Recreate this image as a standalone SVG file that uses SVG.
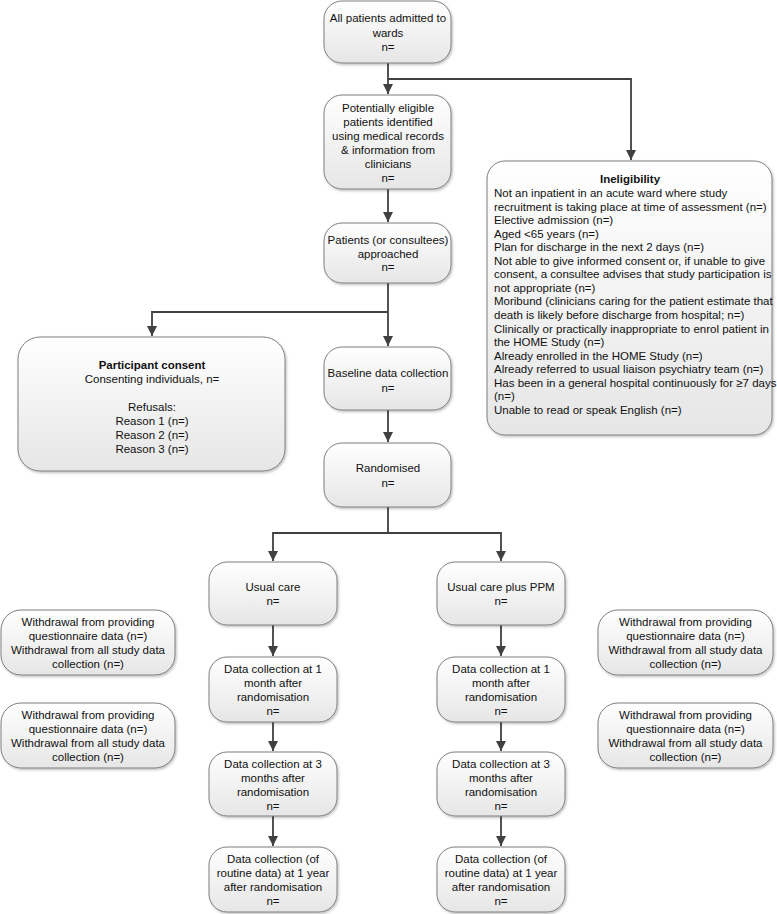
<svg xmlns="http://www.w3.org/2000/svg" width="777" height="914" viewBox="0 0 777 914">
<defs>
<linearGradient id="fillG" x1="0" y1="0" x2="0" y2="1">
<stop offset="0" stop-color="#ffffff"/>
<stop offset="1" stop-color="#e6e6e6"/>
</linearGradient>
<filter id="sh" x="-5%" y="-5%" width="115%" height="120%">
<feDropShadow dx="1.2" dy="1.5" stdDeviation="1" flood-color="#000" flood-opacity="0.25"/>
</filter>
<marker id="arr" markerUnits="userSpaceOnUse" markerWidth="12" markerHeight="12" viewBox="0 0 12 12" refX="11" refY="6" orient="auto">
<path d="M1,1 L11,6 L1,11 Z" fill="#404040"/>
</marker>
<style>
.box{fill:url(#fillG);stroke:#7f7f7f;stroke-width:1;filter:url(#sh)}
.t{font-family:"Liberation Sans",Arial,sans-serif;font-size:11.5px;fill:#111;text-anchor:middle}
.l{font-family:"Liberation Sans",Arial,sans-serif;font-size:11.5px;fill:#111}
.b{font-weight:bold}
.c{fill:none;stroke:#404040;stroke-width:1.8}
</style>
</defs>

<g id="connectors">
<path class="c" d="M388,63 V94" marker-end="url(#arr)"/>
<path class="c" d="M388,79 H631 V160" marker-end="url(#arr)"/>
<path class="c" d="M388,189 V222" marker-end="url(#arr)"/>
<path class="c" d="M388,283 V346" marker-end="url(#arr)"/>
<path class="c" d="M388,312 H152 V336" marker-end="url(#arr)"/>
<path class="c" d="M388,410 V442" marker-end="url(#arr)"/>
<path class="c" d="M388,507 V533 H273 V561" marker-end="url(#arr)"/>
<path class="c" d="M388,533 H501 V561" marker-end="url(#arr)"/>
<path class="c" d="M273,625 V656" marker-end="url(#arr)"/>
<path class="c" d="M273,722 V751" marker-end="url(#arr)"/>
<path class="c" d="M273,816 V846" marker-end="url(#arr)"/>
<path class="c" d="M501,625 V656" marker-end="url(#arr)"/>
<path class="c" d="M501,722 V751" marker-end="url(#arr)"/>
<path class="c" d="M501,816 V846" marker-end="url(#arr)"/>
</g>

<g id="all-patients">
<rect class="box" x="324" y="1" width="127" height="62" rx="18"/>
<text class="t" x="388" y="22">All patients admitted to</text>
<text class="t" x="388" y="37">wards</text>
<text class="t" x="388" y="51">n=</text>
</g>

<g id="potentially-eligible">
<rect class="box" x="324" y="95" width="127" height="94" rx="18"/>
<text class="t" x="388" y="112">Potentially eligible</text>
<text class="t" x="388" y="126">patients identified</text>
<text class="t" x="388" y="140">using medical records</text>
<text class="t" x="388" y="154">&amp; information from</text>
<text class="t" x="388" y="168">clinicians</text>
<text class="t" x="388" y="182">n=</text>
</g>

<g id="approached">
<rect class="box" x="324" y="223" width="127" height="60" rx="18"/>
<text class="t" x="388" y="244">Patients (or consultees)</text>
<text class="t" x="388" y="257.5">approached</text>
<text class="t" x="388" y="271">n=</text>
</g>

<g id="ineligibility">
<rect class="box" x="487" y="161" width="285" height="274" rx="18"/>
<text class="t b" x="630" y="183.4">Ineligibility</text>
<text class="l" x="494" y="197">
<tspan x="494" dy="0">Not an inpatient in an acute ward where study</tspan>
<tspan x="494" dy="13.56">recruitment is taking place at time of assessment (n=)</tspan>
<tspan x="494" dy="13.56">Elective admission (n=)</tspan>
<tspan x="494" dy="13.56">Aged &lt;65 years (n=)</tspan>
<tspan x="494" dy="13.56">Plan for discharge in the next 2 days (n=)</tspan>
<tspan x="494" dy="13.56">Not able to give informed consent or, if unable to give</tspan>
<tspan x="494" dy="13.56">consent, a consultee advises that study participation is</tspan>
<tspan x="494" dy="13.56">not appropriate (n=)</tspan>
<tspan x="494" dy="13.56">Moribund (clinicians caring for the patient estimate that</tspan>
<tspan x="494" dy="13.56">death is likely before discharge from hospital; n=)</tspan>
<tspan x="494" dy="13.56">Clinically or practically inappropriate to enrol patient in</tspan>
<tspan x="494" dy="13.56">the HOME Study (n=)</tspan>
<tspan x="494" dy="13.56">Already enrolled in the HOME Study (n=)</tspan>
<tspan x="494" dy="13.56">Already referred to usual liaison psychiatry team (n=)</tspan>
<tspan x="494" dy="13.56">Has been in a general hospital continuously for ≥7 days</tspan>
<tspan x="494" dy="13.56">(n=)</tspan>
<tspan x="494" dy="13.56">Unable to read or speak English (n=)</tspan>
</text>
</g>

<g id="participant-consent">
<rect class="box" x="18" y="337" width="267" height="134" rx="22"/>
<text class="t b" x="152" y="369">Participant consent</text>
<text class="t" x="152" y="383">Consenting individuals, n=</text>
<text class="t" x="152" y="411">Refusals:</text>
<text class="t" x="152" y="425">Reason 1 (n=)</text>
<text class="t" x="152" y="439">Reason 2 (n=)</text>
<text class="t" x="152" y="453">Reason 3 (n=)</text>
</g>

<g id="baseline">
<rect class="box" x="324" y="347" width="127" height="63" rx="18"/>
<text class="t" x="388" y="377">Baseline data collection</text>
<text class="t" x="388" y="392">n=</text>
</g>

<g id="randomised">
<rect class="box" x="324" y="443" width="127" height="64" rx="18"/>
<text class="t" x="388" y="472">Randomised</text>
<text class="t" x="388" y="487">n=</text>
</g>

<g id="usual-care">
<rect class="box" x="209" y="562" width="128" height="63" rx="18"/>
<text class="t" x="273" y="591">Usual care</text>
<text class="t" x="273" y="605">n=</text>
</g>

<g id="usual-care-ppm">
<rect class="box" x="437" y="562" width="128" height="63" rx="18"/>
<text class="t" x="501" y="591">Usual care plus PPM</text>
<text class="t" x="501" y="605">n=</text>
</g>

<g id="uc-1month">
<rect class="box" x="209" y="657" width="128" height="65" rx="18"/>
<text class="t" x="273" y="672.5">Data collection at 1</text>
<text class="t" x="273" y="686.5">month after</text>
<text class="t" x="273" y="700.5">randomisation</text>
<text class="t" x="273" y="714.5">n=</text>
</g>

<g id="uc-3months">
<rect class="box" x="209" y="752" width="128" height="64" rx="18"/>
<text class="t" x="273" y="767.5">Data collection at 3</text>
<text class="t" x="273" y="781.5">months after</text>
<text class="t" x="273" y="795.5">randomisation</text>
<text class="t" x="273" y="809.5">n=</text>
</g>

<g id="uc-1year">
<rect class="box" x="209" y="847" width="128" height="65" rx="18"/>
<text class="t" x="273" y="862.5">Data collection (of</text>
<text class="t" x="273" y="876.5">routine data) at 1 year</text>
<text class="t" x="273" y="890.5">after randomisation</text>
<text class="t" x="273" y="904.5">n=</text>
</g>

<g id="ppm-1month">
<rect class="box" x="437" y="657" width="128" height="65" rx="18"/>
<text class="t" x="501" y="672.5">Data collection at 1</text>
<text class="t" x="501" y="686.5">month after</text>
<text class="t" x="501" y="700.5">randomisation</text>
<text class="t" x="501" y="714.5">n=</text>
</g>

<g id="ppm-3months">
<rect class="box" x="437" y="752" width="128" height="64" rx="18"/>
<text class="t" x="501" y="767.5">Data collection at 3</text>
<text class="t" x="501" y="781.5">months after</text>
<text class="t" x="501" y="795.5">randomisation</text>
<text class="t" x="501" y="809.5">n=</text>
</g>

<g id="ppm-1year">
<rect class="box" x="437" y="847" width="128" height="65" rx="18"/>
<text class="t" x="501" y="862.5">Data collection (of</text>
<text class="t" x="501" y="876.5">routine data) at 1 year</text>
<text class="t" x="501" y="890.5">after randomisation</text>
<text class="t" x="501" y="904.5">n=</text>
</g>

<g id="withdrawal-uc-1">
<rect class="box" x="1" y="610" width="174" height="65" rx="20"/>
<text class="t" x="88" y="626">Withdrawal from providing</text>
<text class="t" x="88" y="640">questionnaire data (n=)</text>
<text class="t" x="88" y="654">Withdrawal from all study data</text>
<text class="t" x="88" y="668">collection (n=)</text>
</g>

<g id="withdrawal-uc-2">
<rect class="box" x="1" y="703" width="174" height="65" rx="20"/>
<text class="t" x="88" y="719">Withdrawal from providing</text>
<text class="t" x="88" y="733">questionnaire data (n=)</text>
<text class="t" x="88" y="747">Withdrawal from all study data</text>
<text class="t" x="88" y="761">collection (n=)</text>
</g>

<g id="withdrawal-ppm-1">
<rect class="box" x="598" y="610" width="175" height="65" rx="20"/>
<text class="t" x="685.5" y="626">Withdrawal from providing</text>
<text class="t" x="685.5" y="640">questionnaire data (n=)</text>
<text class="t" x="685.5" y="654">Withdrawal from all study data</text>
<text class="t" x="685.5" y="668">collection (n=)</text>
</g>

<g id="withdrawal-ppm-2">
<rect class="box" x="598" y="703" width="175" height="65" rx="20"/>
<text class="t" x="685.5" y="719">Withdrawal from providing</text>
<text class="t" x="685.5" y="733">questionnaire data (n=)</text>
<text class="t" x="685.5" y="747">Withdrawal from all study data</text>
<text class="t" x="685.5" y="761">collection (n=)</text>
</g>
</svg>
